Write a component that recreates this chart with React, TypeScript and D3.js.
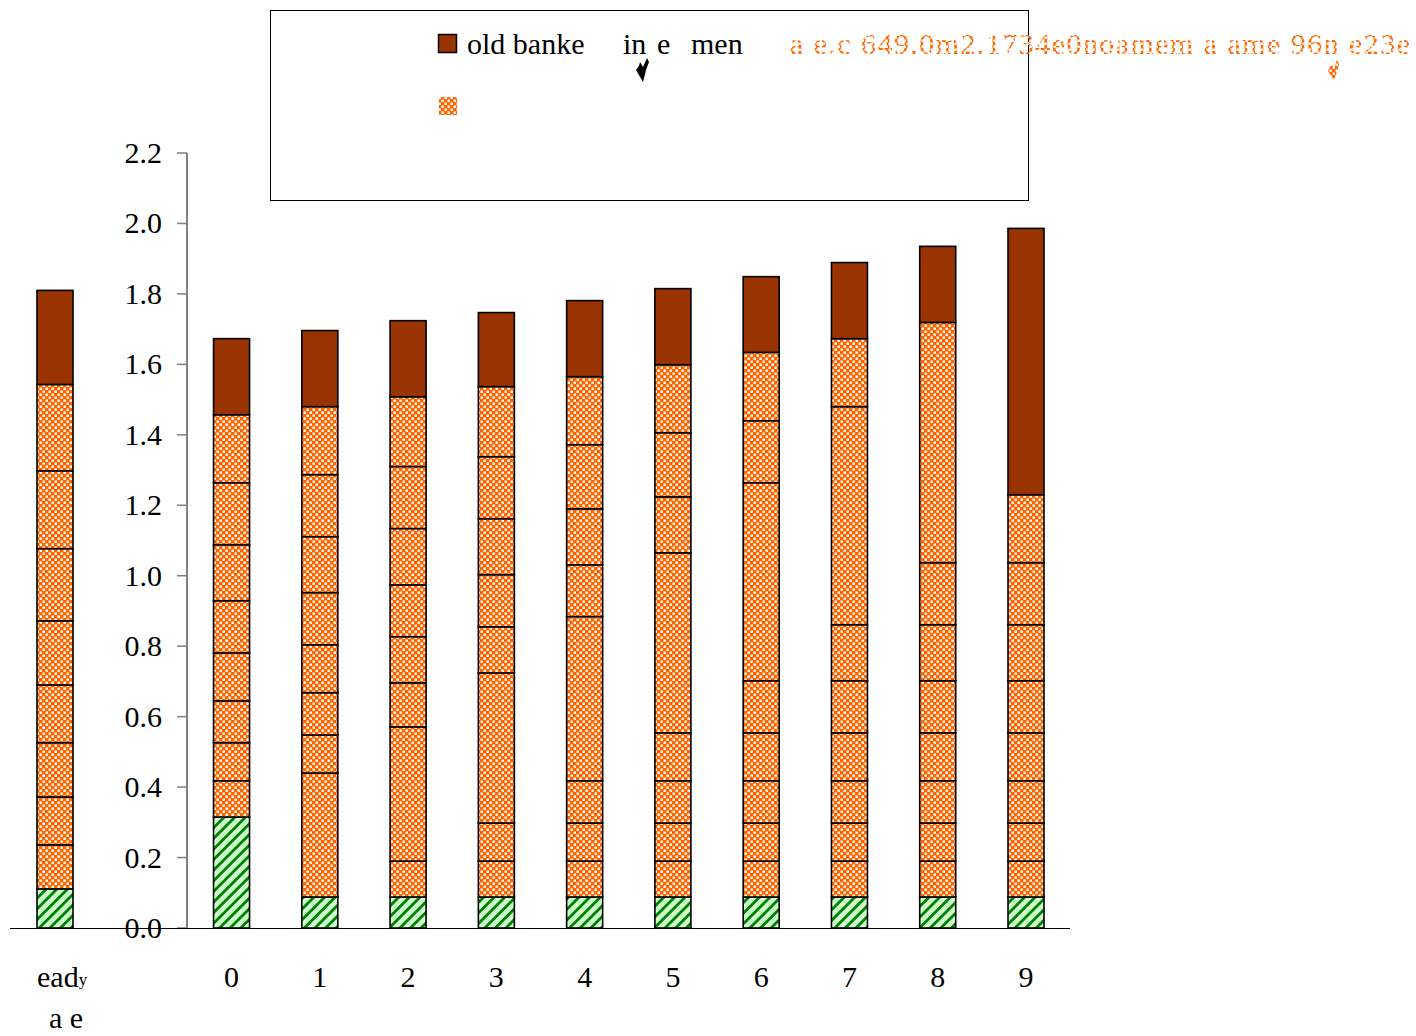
import React from 'react';
import * as d3 from 'd3';

const categories = ['ready made', '', '0', '1', '2', '3', '4', '5', '6', '7', '8', '9'];
const greenBase = [0.111, 0, 0.315, 0.088, 0.088, 0.088, 0.088, 0.088, 0.088, 0.088, 0.088, 0.088];
const orange1 = [0.125, 0, 0.103, 0.352, 0.102, 0.102, 0.102, 0.102, 0.102, 0.102, 0.102, 0.102];
const orange2 = [0.136, 0, 0.108, 0.108, 0.381, 0.108, 0.108, 0.108, 0.108, 0.108, 0.108, 0.108];
const orange3 = [0.154, 0, 0.119, 0.12, 0.125, 0.426, 0.12, 0.12, 0.12, 0.12, 0.12, 0.12];
const orange4 = [0.164, 0, 0.136, 0.136, 0.131, 0.131, 0.466, 0.136, 0.136, 0.136, 0.136, 0.136];
const orange5 = [0.182, 0, 0.148, 0.148, 0.147, 0.148, 0.147, 0.511, 0.148, 0.148, 0.148, 0.148];
const orange6 = [0.205, 0, 0.159, 0.159, 0.16, 0.159, 0.159, 0.159, 0.562, 0.159, 0.159, 0.159];
const orange7 = [0.221, 0, 0.176, 0.176, 0.176, 0.176, 0.182, 0.182, 0.176, 0.619, 0.176, 0.176];
const orange8 = [0.245, 0, 0.193, 0.193, 0.198, 0.199, 0.193, 0.193, 0.194, 0.193, 0.682, 0.193];
const oldBanker = [0.267, 0, 0.216, 0.216, 0.216, 0.21, 0.216, 0.216, 0.215, 0.216, 0.216, 0.756];
const yTicks = [0, 0.2, 0.4, 0.6, 0.8, 1.0, 1.2, 1.4, 1.6, 1.8, 2.0, 2.2];

const seriesList = [
  { key: 'green', values: greenBase, fill: 'url(#hatchGreen)' },
  { key: 'o1', values: orange1, fill: 'url(#checkOrange)' },
  { key: 'o2', values: orange2, fill: 'url(#checkOrange)' },
  { key: 'o3', values: orange3, fill: 'url(#checkOrange)' },
  { key: 'o4', values: orange4, fill: 'url(#checkOrange)' },
  { key: 'o5', values: orange5, fill: 'url(#checkOrange)' },
  { key: 'o6', values: orange6, fill: 'url(#checkOrange)' },
  { key: 'o7', values: orange7, fill: 'url(#checkOrange)' },
  { key: 'o8', values: orange8, fill: 'url(#checkOrange)' },
  { key: 'old', values: oldBanker, fill: '#993300' },
];

const FONT = '"Liberation Serif", "Times New Roman", serif';

export default function App() {
  const y = d3.scaleLinear().domain([0, 2.2]).range([928, 153]);
  const x = d3.scalePoint<string>().domain(categories).range([55, 1026]);
  const barW = 36;

  const table = categories.map((c, i) => {
    const row: any = { cat: c };
    seriesList.forEach((s) => (row[s.key] = s.values[i]));
    return row;
  });
  const stacked = d3.stack<any>().keys(seriesList.map((s) => s.key))(table);

  return (
    <svg width={1416} height={1036} style={{ position: 'absolute', left: 0, top: 0, background: '#fff' }}>
      <defs>
        <pattern id="checkOrange" patternUnits="userSpaceOnUse" width={6} height={6}>
          <rect width={6} height={6} fill="#FF6600" />
          <rect x={0.5} y={0.5} width={2.4} height={2.4} fill="#fff" />
          <rect x={3.5} y={3.5} width={2.4} height={2.4} fill="#fff" />
        </pattern>
        <pattern id="hatchGreen" patternUnits="userSpaceOnUse" width={7.5} height={7.5} patternTransform="rotate(45)">
          <rect width={7.5} height={7.5} fill="#CCFFCC" />
          <rect x={0} y={0} width={2.8} height={7.5} fill="#008000" />
        </pattern>
      </defs>

      {/* legend box */}
      <rect x={270.5} y={10.5} width={758} height={190} fill="none" stroke="#000" strokeWidth={1} />
      <rect x={438.5} y={34.5} width={18} height={18} fill="#993300" stroke="#000" strokeWidth={1.5} />
      <text fontFamily={FONT} fontSize={30} fill="#000">
        <tspan x={467} y={54}>old banke</tspan>
        <tspan x={623} y={54}>in</tspan>
        <tspan x={657} y={54}>e</tspan>
        <tspan x={691} y={54}>men</tspan>
      </text>
      <path d="M640,62 L643,67 L647,58 L649,62 L646,70 L643,82 L636,70 L639,66 Z" fill="#000" />
      <rect x={439} y={97} width={18} height={18} fill="url(#checkOrange)" />
      <text x={790} y={54} fontFamily={FONT} fontSize={30} fill="url(#checkOrange)" textLength={620} lengthAdjust="spacing">
        a e.c 649.0m2.1734e0noamem  a ame 96n  e23e
      </text>
      <path d="M1331,64 L1334,68 L1337,60 L1339,64 L1337,71 L1334,80 L1328,71 L1330,67 Z" fill="url(#checkOrange)" />

      {/* bars */}
      {stacked.map((layer, li) => (
        <g key={layer.key}>
          {layer.map((d, i) => {
            if (d[1] - d[0] <= 0) return null;
            const cx = x(categories[i]) as number;
            return (
              <rect
                key={i}
                x={cx - barW / 2}
                y={y(d[1])}
                width={barW}
                height={y(d[0]) - y(d[1])}
                fill={seriesList[li].fill}
                stroke="#000"
                strokeWidth={1.6}
              />
            );
          })}
        </g>
      ))}

      {/* y axis */}
      <line x1={187} x2={187} y1={y(2.2)} y2={y(0)} stroke="#808080" strokeWidth={2} />
      {yTicks.map((t) => (
        <g key={t}>
          <line x1={177} x2={187} y1={y(t)} y2={y(t)} stroke="#808080" strokeWidth={1.5} />
          <text x={162} y={y(t) + 10} textAnchor="end" fontFamily={FONT} fontSize={30} fill="#000">
            {t.toFixed(1)}
          </text>
        </g>
      ))}
      <line x1={10} x2={1070} y1={928.5} y2={928.5} stroke="#000" strokeWidth={1.2} />

      {/* x labels */}
      {categories.slice(2).map((c) => (
        <text key={c} x={x(c) as number} y={987} textAnchor="middle" fontFamily={FONT} fontSize={30} fill="#000">
          {c}
        </text>
      ))}
      <text x={37} y={987} fontFamily={FONT} fontSize={30} fill="#000">
        ead<tspan fontSize={17} dy={-2}>y</tspan>
      </text>
      <text x={49} y={1028} fontFamily={FONT} fontSize={30} fill="#000">a e</text>
    </svg>
  );
}
